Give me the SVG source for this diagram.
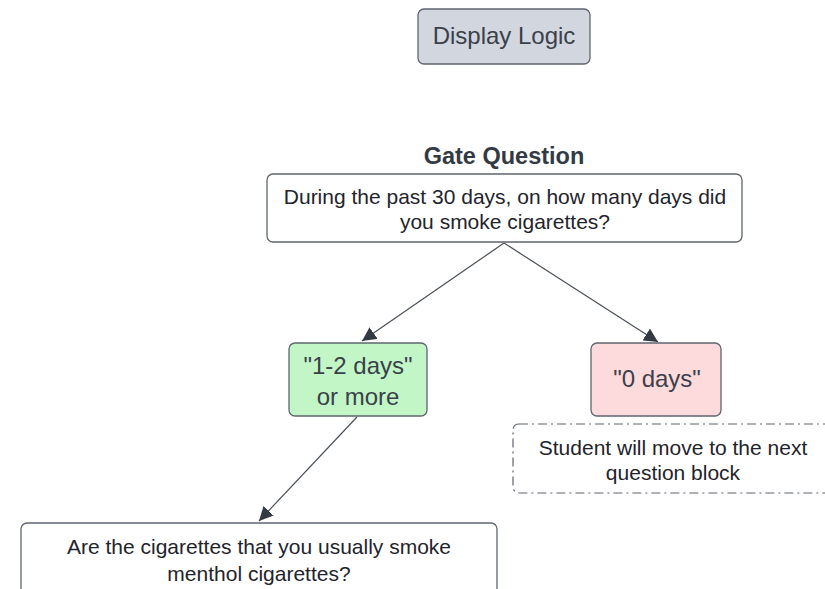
<svg xmlns="http://www.w3.org/2000/svg" width="825" height="589" viewBox="0 0 825 589">
<style>
text{font-family:"Liberation Sans",Arial,sans-serif;fill:#333a44;text-anchor:middle}
.box{stroke:#5f6670;stroke-width:1.3}
.q{font-size:21px;fill:#1f242b}
.big{font-size:24px;fill:#3a414a}
.conn{stroke:#4a5059;stroke-width:1.2;fill:none}
</style>
<defs>
<marker id="arr" viewBox="0 0 10 10" refX="10" refY="5" markerWidth="14" markerHeight="14" markerUnits="userSpaceOnUse" orient="auto">
<path d="M0,0 L10,5 L0,10 z" fill="#333a44"/>
</marker>
</defs>
<rect width="825" height="589" fill="#ffffff"/>
<g id="connectors">
<line class="conn" x1="504" y1="243" x2="362" y2="341" marker-end="url(#arr)"/>
<line class="conn" x1="504" y1="243" x2="658" y2="342" marker-end="url(#arr)"/>
<line class="conn" x1="357" y1="417" x2="259" y2="521" marker-end="url(#arr)"/>
</g>
<g id="display-logic">
<rect class="box" x="418" y="9" width="172" height="55" rx="6" fill="#d2d6df"/>
<text class="big" x="504" y="44">Display Logic</text>
</g>
<g id="gate-question">
<text x="504" y="164" font-size="23.5" font-weight="bold" fill="#3a414a">Gate Question</text>
<rect class="box" x="267" y="174" width="475" height="68" rx="6" fill="#ffffff"/>
<text class="q" x="505" y="204">During the past 30 days, on how many days did</text>
<text class="q" x="505" y="229">you smoke cigarettes?</text>
</g>
<g id="one-two-days">
<rect class="box" x="289" y="343" width="138" height="73" rx="6" fill="#c3f6c7"/>
<text class="big" x="358" y="374">"1-2 days"</text>
<text class="big" x="358" y="405">or more</text>
</g>
<g id="zero-days">
<rect class="box" x="591" y="343" width="130" height="73" rx="6" fill="#fddadb"/>
<text class="big" x="657" y="387">"0 days"</text>
</g>
<g id="next-block-note">
<rect x="513" y="424" width="330" height="69" rx="6" fill="none" stroke="#5f6670" stroke-width="1.2" stroke-dasharray="9,4,2,4"/>
<text class="q" x="673" y="455" fill="#3a414a">Student will move to the next</text>
<text class="q" x="673" y="480" fill="#3a414a">question block</text>
</g>
<g id="menthol-question">
<rect class="box" x="21" y="523" width="476" height="80" rx="6" fill="#ffffff"/>
<text class="q" x="259" y="554">Are the cigarettes that you usually smoke</text>
<text class="q" x="259" y="581">menthol cigarettes?</text>
</g>
</svg>
